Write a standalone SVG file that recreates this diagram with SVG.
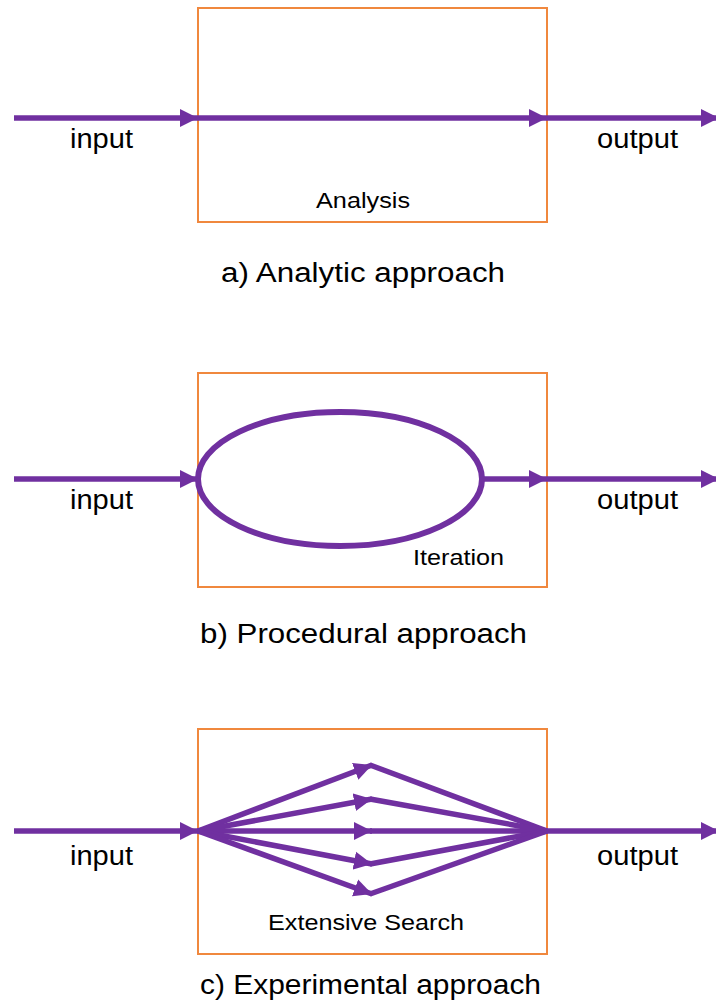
<svg xmlns="http://www.w3.org/2000/svg" width="716" height="1002" viewBox="0 0 716 1002">
  <style>
    .box { fill: none; stroke: #F0883E; stroke-width: 2; }
    .flow { fill: none; stroke: #7030A0; stroke-width: 5.5; }
    .loop { fill: none; stroke: #7030A0; stroke-width: 6; }
    text { font-family: "Liberation Sans", Arial, sans-serif; fill: #000; }
    .io { font-size: 27px; text-anchor: middle; }
    .inner { font-size: 22px; text-anchor: middle; }
    .cap { font-size: 27px; text-anchor: middle; }
  </style>
  <defs>
    <marker id="arrow" markerUnits="userSpaceOnUse" markerWidth="20" markerHeight="20" viewBox="0 0 20 20" refX="18" refY="10" orient="auto">
      <path d="M0,1 L18,10 L0,19 Z" fill="#7030A0"/>
    </marker>
  </defs>

  <rect width="716" height="1002" fill="#fff"/>

  <!-- a) Analytic approach -->
  <g id="analysis">
    <rect class="box" x="198" y="8" width="349" height="214"/>
    <text class="inner" x="363" y="208" textLength="94" lengthAdjust="spacingAndGlyphs">Analysis</text>
  </g>
  <g id="labels-a">
    <text class="io" x="101.5" y="148" textLength="63" lengthAdjust="spacingAndGlyphs">input</text>
    <text class="io" x="637.5" y="148" textLength="81" lengthAdjust="spacingAndGlyphs">output</text>
    <text class="cap" x="363" y="282" textLength="284" lengthAdjust="spacingAndGlyphs">a) Analytic approach</text>
  </g>

  <!-- b) Procedural approach -->
  <g id="iteration">
    <rect class="box" x="198" y="373" width="349" height="214"/>
    <ellipse class="loop" cx="340" cy="479" rx="142" ry="67"/>
    <text class="inner" x="458.5" y="565" textLength="91" lengthAdjust="spacingAndGlyphs">Iteration</text>
  </g>
  <g id="labels-b">
    <text class="io" x="101.5" y="509" textLength="63" lengthAdjust="spacingAndGlyphs">input</text>
    <text class="io" x="637.5" y="509" textLength="81" lengthAdjust="spacingAndGlyphs">output</text>
    <text class="cap" x="363.5" y="643" textLength="327" lengthAdjust="spacingAndGlyphs">b) Procedural approach</text>
  </g>

  <!-- c) Experimental approach -->
  <g id="search">
    <rect class="box" x="198" y="729" width="349" height="225"/>
    <text class="inner" x="366" y="930" textLength="196" lengthAdjust="spacingAndGlyphs">Extensive Search</text>
  </g>
  <g id="labels-c">
    <text class="io" x="101.5" y="865" textLength="63" lengthAdjust="spacingAndGlyphs">input</text>
    <text class="io" x="637.5" y="865" textLength="81" lengthAdjust="spacingAndGlyphs">output</text>
    <text class="cap" x="370.5" y="994" textLength="341" lengthAdjust="spacingAndGlyphs">c) Experimental approach</text>
  </g>

  <g id="connectors">
    <!-- a -->
    <line class="flow" x1="14" y1="118" x2="198" y2="118" marker-end="url(#arrow)"/>
    <line class="flow" x1="198" y1="118" x2="547" y2="118" marker-end="url(#arrow)"/>
    <line class="flow" x1="547" y1="118" x2="719" y2="118" marker-end="url(#arrow)"/>
    <!-- b -->
    <line class="flow" x1="14" y1="479" x2="198" y2="479" marker-end="url(#arrow)"/>
    <line class="flow" x1="482" y1="479" x2="547" y2="479" marker-end="url(#arrow)"/>
    <line class="flow" x1="547" y1="479" x2="719" y2="479" marker-end="url(#arrow)"/>
    <!-- c -->
    <line class="flow" x1="14" y1="831" x2="198" y2="831" marker-end="url(#arrow)"/>
    <line class="flow" x1="198" y1="831" x2="372" y2="765" marker-end="url(#arrow)"/>
    <line class="flow" x1="198" y1="831" x2="372" y2="799" marker-end="url(#arrow)"/>
    <line class="flow" x1="198" y1="831" x2="372" y2="831" marker-end="url(#arrow)"/>
    <line class="flow" x1="198" y1="831" x2="372" y2="864" marker-end="url(#arrow)"/>
    <line class="flow" x1="198" y1="831" x2="372" y2="894" marker-end="url(#arrow)"/>
    <line class="flow" x1="370" y1="765" x2="547" y2="831"/>
    <line class="flow" x1="370" y1="799" x2="547" y2="831"/>
    <line class="flow" x1="370" y1="831" x2="547" y2="831"/>
    <line class="flow" x1="370" y1="864" x2="547" y2="831"/>
    <line class="flow" x1="370" y1="894" x2="547" y2="831"/>
    <line class="flow" x1="547" y1="831" x2="719" y2="831" marker-end="url(#arrow)"/>
  </g>
</svg>
